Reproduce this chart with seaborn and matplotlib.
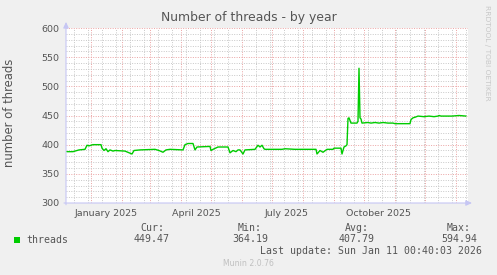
import matplotlib
matplotlib.use("Agg")
import matplotlib.pyplot as plt
import matplotlib.dates as mdates
from matplotlib.ticker import MultipleLocator, FixedLocator, NullFormatter
from matplotlib.patches import Rectangle
import pandas as pd
import seaborn as sns

# ---------------- data ----------------
dates = [
    "2024-12-08", "2024-12-14", "2024-12-20", "2024-12-26", "2024-12-28", "2024-12-30",
    "2025-01-03", "2025-01-11", "2025-01-12", "2025-01-14", "2025-01-16", "2025-01-18",
    "2025-01-20", "2025-01-23", "2025-01-25", "2025-02-04", "2025-02-11", "2025-02-13",
    "2025-02-19", "2025-03-06", "2025-03-10", "2025-03-14", "2025-03-17", "2025-03-21",
    "2025-04-03", "2025-04-05", "2025-04-08", "2025-04-13", "2025-04-15", "2025-04-17",
    "2025-04-30", "2025-05-01", "2025-05-03", "2025-05-08", "2025-05-18", "2025-05-20",
    "2025-05-23", "2025-05-26", "2025-05-28", "2025-05-30", "2025-06-02", "2025-06-04",
    "2025-06-14", "2025-06-17", "2025-06-19", "2025-06-21", "2025-06-23", "2025-06-24",
    "2025-07-11", "2025-07-14", "2025-07-24", "2025-08-14", "2025-08-15", "2025-08-18",
    "2025-08-21", "2025-08-25", "2025-08-31", "2025-09-01", "2025-09-08", "2025-09-09",
    "2025-09-11", "2025-09-13", "2025-09-14", "2025-09-15", "2025-09-16", "2025-09-18",
    "2025-09-24", "2025-09-25", "2025-09-26", "2025-09-27", "2025-09-28", "2025-09-29",
    "2025-10-05", "2025-10-08", "2025-10-12", "2025-10-16", "2025-10-20", "2025-10-25",
    "2025-10-30", "2025-11-01", "2025-11-16", "2025-11-17", "2025-11-19", "2025-11-21",
    "2025-11-24", "2025-11-30", "2025-12-05", "2025-12-10", "2025-12-14", "2025-12-15",
    "2025-12-17", "2025-12-22", "2025-12-28", "2026-01-04", "2026-01-11",
]
threads = [
    388, 388, 391, 392, 399, 398,
    400, 400, 394, 390, 393, 388,
    391, 389, 390, 389, 384, 390,
    391, 392, 390, 387, 391, 392,
    391, 400, 402, 402, 391, 396,
    397, 390, 392, 396, 396, 386,
    390, 388, 391, 391, 384, 391,
    392, 399, 396, 399, 393, 392,
    392, 393, 392, 392, 384, 390,
    387, 392, 392, 394, 394, 384,
    396, 398, 400, 445, 446, 437,
    437, 440, 531, 446, 444, 437,
    438, 437, 438, 437, 438, 437,
    437, 436, 436, 443, 446, 447,
    449, 448, 449, 448, 449, 450,
    449, 449, 449, 450, 449,
]

series_name = "threads"
title = "Number of threads - by year"
y_label = "number of threads"
x_label_texts = ["January 2025", "April 2025", "July 2025", "October 2025"]
x_label_dates = ["2025-01-16", "2025-04-16", "2025-07-16", "2025-10-16"]
y_min, y_max = 300, 600
stat_names = ["Cur:", "Min:", "Avg:", "Max:"]
stat_values = ["449.47", "364.19", "407.79", "594.94"]
last_update = "Last update: Sun Jan 11 00:40:03 2026"
footer = "Munin 2.0.76"
watermark = "RRDTOOL / TOBI OETIKER"
x_start, x_end = "2024-12-07", "2026-01-13"

df = pd.DataFrame({"date": pd.to_datetime(dates), "value": threads})

# ---------------- figure ----------------
W, H = 497, 275
sns.set_style("white")
plt.rcParams["font.family"] = ["DejaVu Sans"]
fig = plt.figure(figsize=(W / 100, H / 100), dpi=100)
fig.patch.set_facecolor("#f0f0f0")


def fx(px):
    return px / W


def fy(py):
    return 1 - py / H


ax = fig.add_axes([fx(66), fy(203), fx(468) - fx(66), fy(28) - fy(203)])
ax.set_facecolor("white")

LINE = "#00cc00"
sns.lineplot(data=df, x="date", y="value", ax=ax, color=LINE, linewidth=1.0,
             legend=False, zorder=5)

ax.set_xlim(pd.Timestamp(x_start), pd.Timestamp(x_end))
ax.set_ylim(y_min, y_max)

# grid
ax.xaxis.set_major_locator(mdates.MonthLocator())
minor_dates = pd.date_range("2024-12-15", "2026-01-11", freq="14D")
ax.xaxis.set_minor_locator(FixedLocator(mdates.date2num(minor_dates)))
ax.xaxis.set_major_formatter(NullFormatter())
ax.yaxis.set_major_locator(MultipleLocator(50))
ax.yaxis.set_minor_locator(MultipleLocator(10))
ax.set_axisbelow(True)
ax.grid(which="minor", color="#c8c8c8", linestyle=(0, (1, 1.5)), linewidth=0.7, zorder=0)
ax.grid(which="major", color="#eba3a3", linestyle=(0, (1, 1.5)), linewidth=0.7, zorder=1)
ax.tick_params(which="both", length=0)
ax.tick_params(axis="y", labelsize=6.8, labelcolor="#555555", pad=4.5)
ax.tick_params(axis="x", labelbottom=False)
ax.set_xlabel("")
ax.set_ylabel("")
for s in ax.spines.values():
    s.set_visible(False)

for d, t in zip(x_label_dates, x_label_texts):
    ax.text(pd.Timestamp(d), -0.035, t, transform=ax.get_xaxis_transform(),
            ha="center", va="top", fontsize=6.8, color="#555555")

# axis lines with arrows
AX = "#c6c6f4"
ax.annotate("", xy=(1.01, 0), xytext=(-0.005, 0), xycoords="axes fraction",
            arrowprops=dict(arrowstyle="-|>,head_length=0.35,head_width=0.16",
                            color=AX, lw=0.8, shrinkA=0, shrinkB=0), annotation_clip=False)
ax.annotate("", xy=(0, 1.035), xytext=(0, -0.01), xycoords="axes fraction",
            arrowprops=dict(arrowstyle="-|>,head_length=0.35,head_width=0.16",
                            color=AX, lw=0.8, shrinkA=0, shrinkB=0), annotation_clip=False)

# texts
fig.text(fx(248.5), fy(18), title, ha="center", va="center", fontsize=8.9, color="#555555")
fig.text(fx(10), fy(113), y_label, rotation=90, ha="center", va="center",
         fontsize=8.4, color="#555555")
fig.text(fx(487), fy(53), watermark, rotation=270, ha="center", va="center",
         fontsize=5.4, color="#c8c8c8")

MONO = "DejaVu Sans Mono"
fig.patches.append(Rectangle((fx(14), fy(242.7)), fx(6), 5.4 / H, transform=fig.transFigure,
                             facecolor=LINE, edgecolor="none"))
fig.text(fx(26.5), fy(240), series_name, ha="left", va="center", fontsize=7.1,
         family=MONO, color="#555555")
stat_right = [170, 268, 375, 477]
for name, val, r in zip(stat_names, stat_values, stat_right):
    fig.text(fx(r - 6), fy(228), name, ha="right", va="center", fontsize=7.1,
             family=MONO, color="#555555")
    fig.text(fx(r), fy(239.5), val, ha="right", va="center", fontsize=7.1,
             family=MONO, color="#555555")
fig.text(fx(482.5), fy(251), last_update, ha="right", va="center", fontsize=7.1,
         family=MONO, color="#555555")
fig.text(fx(248), fy(264), footer, ha="center", va="center", fontsize=5.6, color="#c0c0c0")

fig.savefig("out.png", dpi=100, facecolor=fig.get_facecolor())
